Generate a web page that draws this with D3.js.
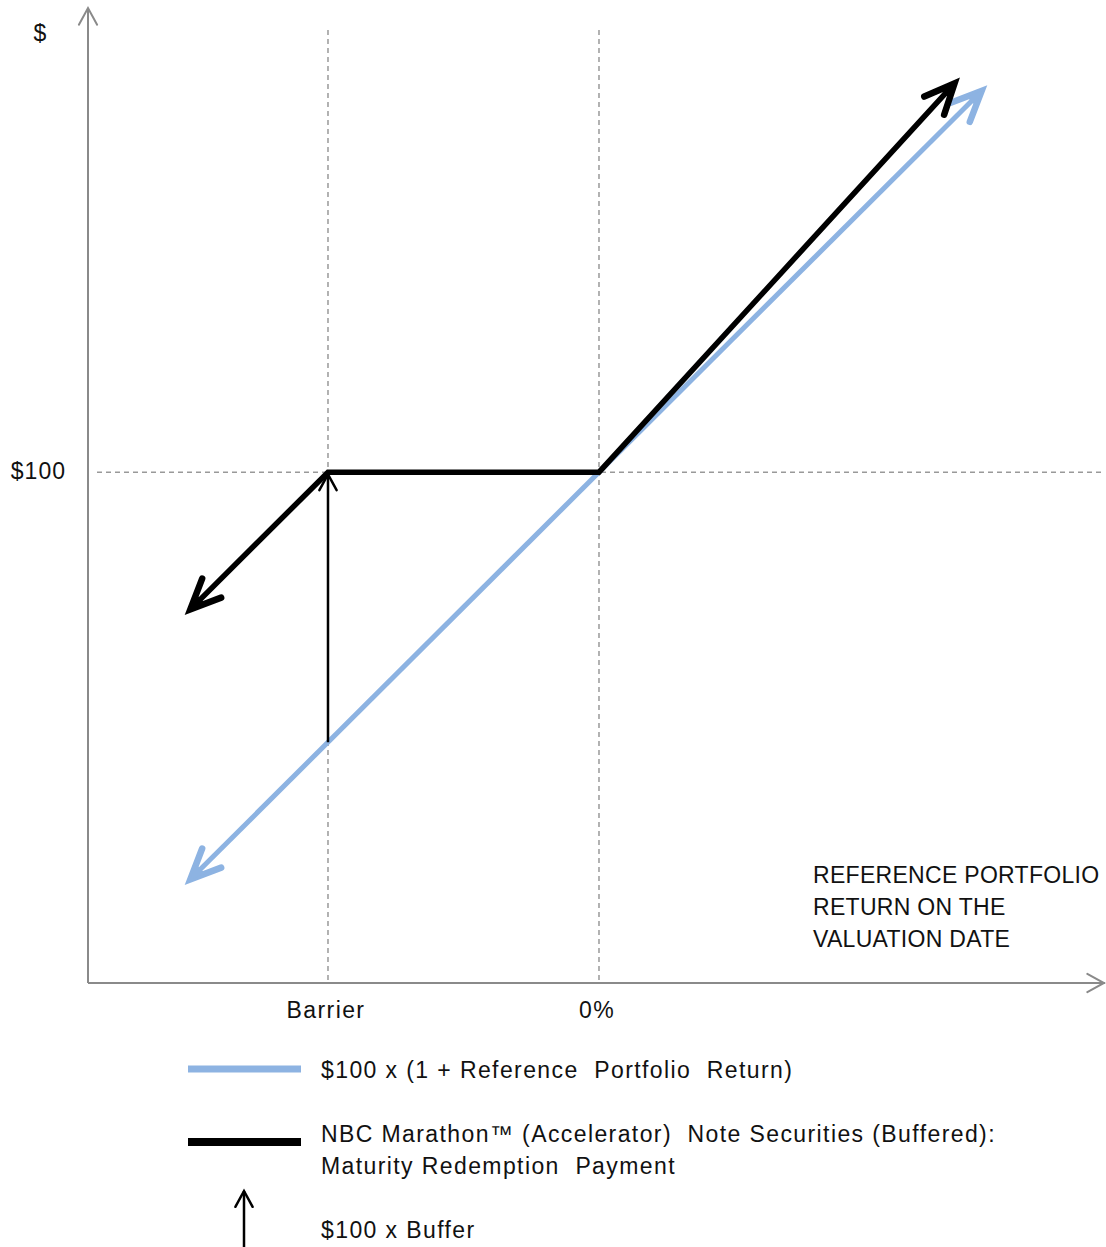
<!DOCTYPE html>
<html><head><meta charset="utf-8">
<script src="https://cdn.jsdelivr.net/npm/d3@7"></script>
<style>body{margin:0;background:#fff}svg{display:block}text{font-family:"Liberation Sans",Arial,sans-serif;fill:#111}</style>
</head><body>
<script>
// ---- data ----
const xTickValues = [-25, 0];
const xTickLabels = ["Barrier", "0%"];
const yTickValues = [100];
const yTickLabels = ["$100"];
const refReturnX = [-37.7, 35.3];
const refReturnY = [62.3, 135.3];
const noteX = [-37.7, -25, 0, 32.8];
const noteY = [87.3, 100, 100, 136.0];
const bufferX = [-25, -25];
const bufferY = [75, 99.8];
const axisTitle = ["REFERENCE PORTFOLIO", "RETURN ON THE", "VALUATION DATE"];
const legendLabels = [["$100 x (1 + Reference  Portfolio  Return)"],
  ["NBC Marathon\u2122 (Accelerator)  Note Securities (Buffered):", "Maturity Redemption  Payment"],
  ["$100 x Buffer"]];

const W = 1106, H = 1247;
const svg = d3.select("body").append("svg").attr("width", W).attr("height", H);
const x = d3.scaleLinear().domain([-47.14, 46.68]).range([88, 1105]);
const y = d3.scaleLinear().domain([52.7, 142.8]).range([983, 10]);

const gray = "#8a8a8a", blue = "#8db3e2";

function chevron(g, x1, y1, x2, y2, len, ang, color, width, fillLen) {
  const a = Math.atan2(y1 - y2, x1 - x2);
  const p1 = [x2 + len * Math.cos(a + ang), y2 + len * Math.sin(a + ang)];
  const p2 = [x2 + len * Math.cos(a - ang), y2 + len * Math.sin(a - ang)];
  g.append("path").attr("d", `M${p1}L${x2},${y2}L${p2}`)
    .attr("fill", "none").attr("stroke", color).attr("stroke-width", width)
    .attr("stroke-linecap", "round").attr("stroke-linejoin", "miter").attr("stroke-miterlimit", 10);
  if (fillLen) {
    const q1 = [x2 + fillLen * Math.cos(a + ang), y2 + fillLen * Math.sin(a + ang)];
    const q2 = [x2 + fillLen * Math.cos(a - ang), y2 + fillLen * Math.sin(a - ang)];
    g.append("path").attr("d", `M${q1}L${x2},${y2}L${q2}Z`).attr("fill", color);
  }
}

// dashed reference lines
xTickValues.forEach(v => svg.append("line").attr("x1", x(v)).attr("x2", x(v)).attr("y1", 30).attr("y2", y.range()[0])
  .attr("stroke", "#999").attr("stroke-width", 1.5).attr("stroke-dasharray", "5,4"));
yTickValues.forEach(v => svg.append("line").attr("x1", 97).attr("x2", 1102).attr("y1", y(v)).attr("y2", y(v))
  .attr("stroke", "#999").attr("stroke-width", 1.5).attr("stroke-dasharray", "5,4"));

// axes
const ax = svg.append("g");
ax.append("line").attr("x1", x.range()[0]).attr("y1", y.range()[0]).attr("x2", x.range()[1]).attr("y2", y.range()[0]).attr("stroke", gray).attr("stroke-width", 2);
ax.append("line").attr("x1", x.range()[0]).attr("y1", y.range()[0]).attr("x2", x.range()[0]).attr("y2", y.range()[1] - 2).attr("stroke", gray).attr("stroke-width", 2);
chevron(ax, x.range()[0], 500, x.range()[0], y.range()[1] - 2, 19, 0.5, gray, 2);
chevron(ax, 500, y.range()[0], x.range()[1] - 1, y.range()[0], 19, 0.5, gray, 2);

// tick labels
xTickValues.forEach((v, i) => svg.append("text").attr("x", x(v) - 2).attr("y", 1018).attr("text-anchor", "middle")
  .attr("font-size", 23).attr("letter-spacing", 1.4).text(xTickLabels[i]));
yTickValues.forEach((v, i) => svg.append("text").attr("x", 66).attr("y", y(v) + 7).attr("text-anchor", "end")
  .attr("font-size", 23).attr("letter-spacing", 1).text(yTickLabels[i]));
svg.append("text").attr("x", 40).attr("y", 41).attr("text-anchor", "middle").attr("font-size", 23).text("$");

axisTitle.forEach((t, i) => svg.append("text").attr("x", 813).attr("y", 883 + i * 32).attr("font-size", 23)
  .attr("letter-spacing", 0.3).text(t));

const line = d3.line().x(d => x(d[0])).y(d => y(d[1]));

// blue reference line with arrows at both ends
const bpts = refReturnX.map((v, i) => [v, refReturnY[i]]);
svg.append("path").attr("d", line(bpts)).attr("fill", "none").attr("stroke", blue).attr("stroke-width", 5);
chevron(svg, x(bpts[1][0]), y(bpts[1][1]), x(bpts[0][0]), y(bpts[0][1]), 33, 0.42, blue, 6.5, 16);
chevron(svg, x(bpts[0][0]), y(bpts[0][1]), x(bpts[1][0]), y(bpts[1][1]), 33, 0.42, blue, 6.5, 16);

// buffer arrow
const bf = bufferX.map((v, i) => [v, bufferY[i]]);
svg.append("path").attr("d", line(bf)).attr("stroke", "#000").attr("stroke-width", 2.5).attr("fill", "none");
chevron(svg, x(bf[0][0]), y(bf[0][1]), x(bf[1][0]), y(bf[1][1]), 18, 0.5, "#000", 2.5);

// note payoff
const npts = noteX.map((v, i) => [v, noteY[i]]);
svg.append("path").attr("d", line(npts)).attr("fill", "none").attr("stroke", "#000").attr("stroke-width", 5.5)
  .attr("stroke-linejoin", "miter");
const n = npts.length;
chevron(svg, x(npts[1][0]), y(npts[1][1]), x(npts[0][0]), y(npts[0][1]), 33, 0.42, "#000", 6.5, 16);
chevron(svg, x(npts[n - 2][0]), y(npts[n - 2][1]), x(npts[n - 1][0]), y(npts[n - 1][1]), 33, 0.42, "#000", 6.5, 16);

// legend
const lg = svg.append("g");
lg.append("line").attr("x1", 188).attr("x2", 301).attr("y1", 1069).attr("y2", 1069).attr("stroke", blue).attr("stroke-width", 7);
lg.append("line").attr("x1", 188).attr("x2", 301).attr("y1", 1142).attr("y2", 1142).attr("stroke", "#000").attr("stroke-width", 8);
lg.append("line").attr("x1", 244).attr("x2", 244).attr("y1", 1247).attr("y2", 1191).attr("stroke", "#000").attr("stroke-width", 2.5);
chevron(lg, 244, 1247, 244, 1191, 18, 0.5, "#000", 2.5);
const lgY = [1078, 1142, 1238];
legendLabels.forEach((lines, i) => lines.forEach((t, j) =>
  lg.append("text").attr("x", 321).attr("y", lgY[i] + j * 32).attr("font-size", 23).attr("letter-spacing", 1.4)
    .attr("xml:space", "preserve").style("white-space", "pre").text(t)));
</script>
</body></html>
